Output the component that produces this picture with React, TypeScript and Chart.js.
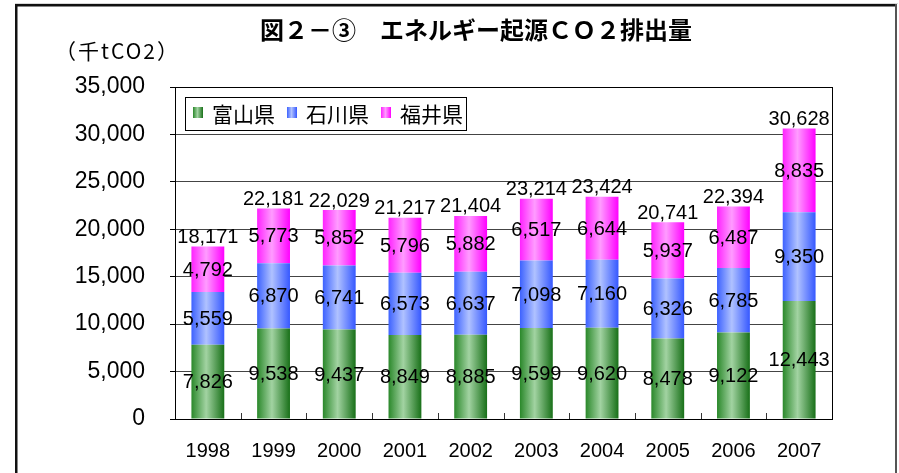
import { useEffect, useRef } from 'react';
import { Chart, registerables } from 'chart.js';

Chart.register(...registerables);

// ---- data ----
const years = ['1998', '1999', '2000', '2001', '2002', '2003', '2004', '2005', '2006', '2007'];
const seriesNames = ['富山県', '石川県', '福井県'];
const toyama = [7826, 9538, 9437, 8849, 8885, 9599, 9620, 8478, 9122, 12443];
const ishikawa = [5559, 6870, 6741, 6573, 6637, 7098, 7160, 6326, 6785, 9350];
const fukui = [4792, 5773, 5852, 5796, 5882, 6517, 6644, 5937, 6487, 8835];
const totals = [18171, 22181, 22029, 21217, 21404, 23214, 23424, 20741, 22394, 30628];
const yMax = 35000;
const yStep = 5000;
const titleText = '図２－③　エネルギー起源ＣＯ２排出量';
const unitText = '（千tCO2）';

// ---- styles ----
const LAT = "'Liberation Sans', Arial, 'Noto Sans CJK JP', sans-serif";
const JP = "'Noto Sans CJK JP', 'Liberation Sans', sans-serif";
const seriesStops = [
  ['#2a882a', '#a2d3a2', '#187018'],
  ['#3d62ff', '#b0c2ff', '#3658ff'],
  ['#ff22ff', '#ff9cff', '#ff00ff'],
];
const seriesFlat = ['#4a9a4a', '#7090ff', '#ff55ff'];
const BAR_FRACTION = 0.5;

const fmt = (v: number) => v.toLocaleString('en-US');

function makeGradient(ctx: CanvasRenderingContext2D, x0: number, x1: number, stops: string[]) {
  const g = ctx.createLinearGradient(x0, 0, x1, 0);
  g.addColorStop(0, stops[0]);
  g.addColorStop(0.45, stops[1]);
  g.addColorStop(1, stops[2]);
  return g;
}

const decorPlugin = {
  id: 'decor',
  beforeDraw(chart: any) {
    const { ctx, width, height } = chart;
    ctx.save();
    ctx.fillStyle = '#ffffff';
    ctx.fillRect(0, 0, width, height);
    // outer frame
    ctx.fillStyle = '#d8d8d8';
    ctx.fillRect(15, 3, 883, 1);
    ctx.fillStyle = '#111111';
    ctx.fillRect(15, 4, 882, 2.5);
    ctx.fillRect(15, 4, 2.5, height - 4);
    ctx.fillStyle = '#555555';
    ctx.fillRect(895, 4, 2, height - 4);
    ctx.restore();
  },
  beforeDatasetsDraw(chart: any) {
    const { ctx } = chart;
    chart.data.datasets.forEach((_ds: any, di: number) => {
      const meta = chart.getDatasetMeta(di);
      meta.data.forEach((el: any) => {
        const p = el.getProps(['x', 'width'], true);
        if (!Number.isFinite(p.x) || !Number.isFinite(p.width)) return;
        const g = makeGradient(ctx, p.x - p.width / 2, p.x + p.width / 2, seriesStops[di]);
        el.options = Object.assign({}, el.options, { backgroundColor: g });
      });
    });
  },
  afterDatasetsDraw(chart: any) {
    const { ctx, chartArea } = chart;
    const xs = chart.scales.x;
    ctx.save();
    // segment labels
    ctx.font = `20px ${LAT}`;
    ctx.fillStyle = '#000000';
    ctx.textAlign = 'center';
    ctx.textBaseline = 'middle';
    chart.data.datasets.forEach((ds: any, di: number) => {
      const meta = chart.getDatasetMeta(di);
      meta.data.forEach((el: any, i: number) => {
        const p = el.getProps(['x', 'y', 'base'], true);
        ctx.fillText(fmt(ds.data[i]), p.x, (p.y + p.base) / 2 + 1);
      });
    });
    // totals
    const lastMeta = chart.getDatasetMeta(chart.data.datasets.length - 1);
    ctx.textBaseline = 'alphabetic';
    lastMeta.data.forEach((el: any, i: number) => {
      const p = el.getProps(['x', 'y'], true);
      ctx.fillText(fmt(totals[i]), p.x, p.y - 3.5);
    });
    // plot border
    ctx.strokeStyle = '#000000';
    ctx.lineWidth = 1;
    ctx.strokeRect(
      Math.round(chartArea.left) + 0.5,
      Math.round(chartArea.top) + 0.5,
      Math.round(chartArea.right - chartArea.left),
      Math.round(chartArea.bottom - chartArea.top)
    );
    // inward category ticks
    ctx.strokeStyle = '#333333';
    for (let i = 0; i < years.length - 1; i++) {
      const x = Math.round((xs.getPixelForValue(i) + xs.getPixelForValue(i + 1)) / 2) + 0.5;
      ctx.beginPath();
      ctx.moveTo(x, chartArea.bottom);
      ctx.lineTo(x, chartArea.bottom - 6);
      ctx.stroke();
    }
    // legend box
    const lx = chartArea.left + 10;
    const ly = chartArea.top + 10;
    ctx.font = `21px ${JP}`;
    let cx = lx + 8;
    const items: { x: number; tx: number }[] = [];
    seriesNames.forEach((name) => {
      const tw = ctx.measureText(name).width;
      items.push({ x: cx, tx: cx + 19 });
      cx += 19 + tw + 12;
    });
    const lw = cx - 12 + 3 - lx;
    const lh = 33;
    ctx.fillStyle = '#ffffff';
    ctx.fillRect(lx, ly, lw, lh);
    ctx.strokeStyle = '#000000';
    ctx.strokeRect(lx + 0.5, ly + 0.5, lw, lh);
    seriesNames.forEach((name, k) => {
      const it = items[k];
      ctx.fillStyle = makeGradient(ctx, it.x, it.x + 10, seriesStops[k]);
      ctx.fillRect(it.x, ly + 10, 10, 11);
      ctx.fillStyle = '#000000';
      ctx.textAlign = 'left';
      ctx.textBaseline = 'middle';
      ctx.fillText(name, it.tx, ly + lh / 2 + 1);
    });
    // title and unit
    ctx.font = `bold 24px ${JP}`;
    ctx.textAlign = 'center';
    ctx.textBaseline = 'middle';
    ctx.fillText(titleText, 476, 30);
    ctx.font = `21px ${JP}`;
    ctx.textAlign = 'left';
    (ctx as any).letterSpacing = '2px';
    ctx.fillText(unitText, 55, 51);
    (ctx as any).letterSpacing = '0px';
    ctx.restore();
  },
};

export default function App() {
  const ref = useRef<HTMLCanvasElement>(null);

  useEffect(() => {
    const canvas = ref.current;
    if (!canvas) return;
    const seriesData = [toyama, ishikawa, fukui];
    const chart = new Chart(canvas, {
      type: 'bar',
      data: {
        labels: years,
        datasets: seriesData.map((d, k) => ({
          label: seriesNames[k],
          data: d,
          stack: 's',
          borderWidth: 0,
          categoryPercentage: BAR_FRACTION,
          barPercentage: 1,
          backgroundColor: seriesFlat[k],
        })),
      },
      options: {
        responsive: false,
        animation: false,
        devicePixelRatio: 1,
        layout: { padding: { left: 0, top: 87, right: 67, bottom: 0 } },
        plugins: {
          legend: { display: false },
          title: { display: false },
          tooltip: { enabled: false },
        },
        scales: {
          x: {
            stacked: true,
            grid: { display: false, drawTicks: false },
            border: { display: true, color: '#000000', width: 1 },
            ticks: { color: '#000000', font: { family: LAT, size: 20 }, padding: 20 },
            afterFit: (s: any) => {
              s.height = 54;
            },
          },
          y: {
            stacked: true,
            min: 0,
            max: yMax,
            grid: { color: '#444444', tickColor: '#000000', tickLength: 5, drawTicks: true },
            border: { display: true, color: '#000000', width: 1 },
            ticks: {
              stepSize: yStep,
              color: '#000000',
              font: { family: LAT, size: 23 },
              padding: 25,
              callback: (v: any) => fmt(Number(v)),
            },
            afterFit: (s: any) => {
              s.width = 175;
            },
          },
        },
      },
      plugins: [decorPlugin],
    });
    return () => chart.destroy();
  }, []);

  return (
    <div style={{ position: 'absolute', left: 0, top: 0, width: 899, height: 473 }}>
      <canvas ref={ref} width={899} height={473} style={{ display: 'block' }} />
    </div>
  );
}
